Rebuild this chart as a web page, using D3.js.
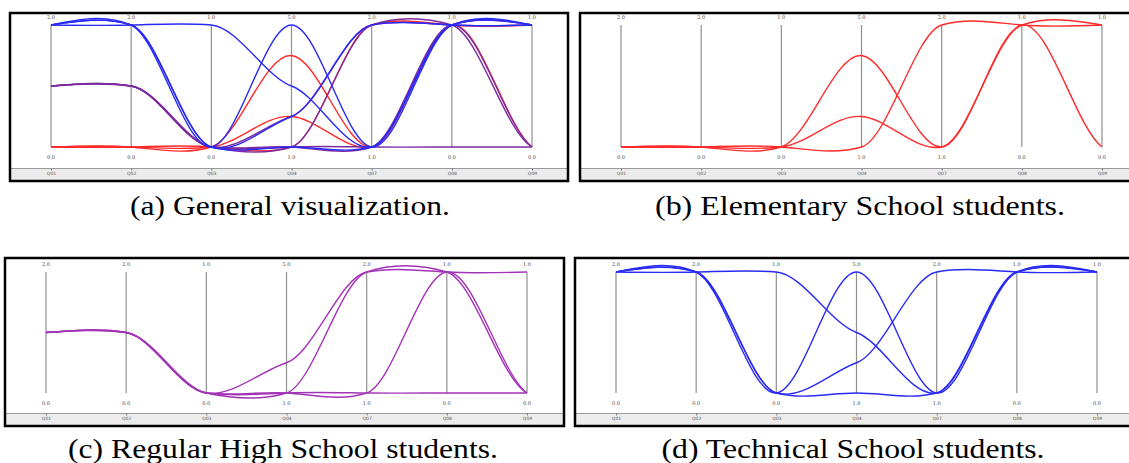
<!DOCTYPE html>
<html>
<head>
<meta charset="utf-8">
<script src="https://cdn.jsdelivr.net/npm/d3@7"></script>
<style>
  html, body { margin: 0; padding: 0; background: #fff; }
  svg { display: block; }
</style>
</head>
<body>
<svg id="chart" width="1129" height="463"></svg>
<script>
// ---------- data ----------
const axesNames = ["Q01", "Q02", "Q03", "Q04", "Q07", "Q08", "Q09"];
const axisMin = [0, 0, 0, 1, 1, 0, 0];
const axisMax = [2, 2, 1, 5, 2, 1, 1];
const topLabels = ["2.0", "2.0", "1.0", "5.0", "2.0", "1.0", "1.0"];
const bottomLabels = ["0.0", "0.0", "0.0", "1.0", "1.0", "0.0", "0.0"];

// Elementary School students (red)
const elementary = [
  [0, 0, 0, 1, 2, 1, 1],
  [0, 0, 0, 4, 1, 1, 0],
  [0, 0, 0, 2, 1, 1, 1]
];
// Regular High School students (purple)
const highSchool = [
  [1, 1, 0, 2, 2, 1, 1],
  [1, 1, 0, 1, 2, 1, 0],
  [1, 1, 0, 1, 1, 1, 0],
  [1, 1, 0, 1, 1, 0, 0]
];
// Technical School students (blue)
const technical = [
  [2, 2, 1, 3, 1, 1, 1],
  [2, 2, 0, 5, 1, 1, 1],
  [2, 2, 0, 2, 2, 1, 1],
  [2, 2, 0, 1, 1, 1, 1]
];

const captions = [
  "(a) General visualization.",
  "(b) Elementary School students.",
  "(c) Regular High School students.",
  "(d) Technical School students."
];

// ---------- custom smooth curve (damped natural spline through the points) ----------
function DampedNatural(context, k) { this._context = context; this._k = k; }
DampedNatural.prototype = {
  areaStart() { this._line = 0; },
  areaEnd() { this._line = NaN; },
  lineStart() { this._xs = []; this._ys = []; },
  point(x, y) { this._xs.push(+x); this._ys.push(+y); },
  lineEnd() {
    const xs = this._xs, ys = this._ys, n = xs.length, k = this._k, c = this._context;
    if (!n) return;
    c.moveTo(xs[0], ys[0]);
    if (n === 1) return;
    const h = [];
    for (let i = 0; i < n - 1; i++) h.push(xs[i + 1] - xs[i]);
    const M = new Array(n).fill(0);
    if (n > 2) {
      const a = [], b = [], cc = [], d = [];
      for (let i = 1; i < n - 1; i++) {
        a.push(h[i - 1]);
        b.push(2 * (h[i - 1] + h[i]));
        cc.push(h[i]);
        d.push(6 * ((ys[i + 1] - ys[i]) / h[i] - (ys[i] - ys[i - 1]) / h[i - 1]));
      }
      const m = b.length;
      for (let i = 1; i < m; i++) {
        const w = a[i] / b[i - 1];
        b[i] -= w * cc[i - 1];
        d[i] -= w * d[i - 1];
      }
      const sol = new Array(m);
      sol[m - 1] = d[m - 1] / b[m - 1];
      for (let i = m - 2; i >= 0; i--) sol[i] = (d[i] - cc[i] * sol[i + 1]) / b[i];
      for (let i = 0; i < m; i++) M[i + 1] = sol[i];
    }
    const slope = new Array(n);
    for (let i = 0; i < n - 1; i++)
      slope[i] = (ys[i + 1] - ys[i]) / h[i] - h[i] * (2 * M[i] + M[i + 1]) / 6;
    slope[n - 1] = (ys[n - 1] - ys[n - 2]) / h[n - 2] + h[n - 2] * (M[n - 2] + 2 * M[n - 1]) / 6;
    for (let i = 0; i < n - 1; i++) {
      const t = h[i] / 3;
      c.bezierCurveTo(xs[i] + t, ys[i] + k * slope[i] * t,
                      xs[i + 1] - t, ys[i + 1] - k * slope[i + 1] * t,
                      xs[i + 1], ys[i + 1]);
    }
  }
};
const curveDamped = k => context => new DampedNatural(context, k);

// ---------- layout ----------
const RED = "#ff2a2a", BLUE = "#2a2af5", PURPLE_A = "#7d2aa0", PURPLE_C = "#a333b6";

const panels = [
  { box: [10, 13, 568, 181], ax: [51, 532], ay: [147, 25], cap: [290, 215], capW: 320,
    groups: [[elementary, RED], [highSchool, PURPLE_A], [technical, BLUE]] },
  { box: [580, 13, 1140, 181], ax: [621, 1102], ay: [147, 25], cap: [860, 215], capW: 410,
    groups: [[elementary, RED]] },
  { box: [5, 258, 564, 426], ax: [46, 527], ay: [393, 272], cap: [283, 458], capW: 430,
    groups: [[highSchool, PURPLE_C]] },
  { box: [575, 258, 1140, 426], ax: [616, 1097], ay: [393, 272], cap: [853, 458], capW: 383,
    groups: [[technical, BLUE]] }
];

const svg = d3.select("#chart");

panels.forEach((p, pi) => {
  const [bx0, by0, bx1, by1] = p.box;
  const g = svg.append("g");

  const x = d3.scalePoint().domain(axesNames).range(p.ax);
  const yScales = axesNames.map((_, i) =>
    d3.scaleLinear().domain([axisMin[i], axisMax[i]]).range(p.ay));

  g.append("rect").attr("x", bx0).attr("y", by0)
    .attr("width", bx1 - bx0).attr("height", by1 - by0)
    .attr("fill", "#fff");

  // bottom strip with axis names
  const stripTop = by1 - 12.5;
  g.append("rect").attr("x", bx0).attr("y", stripTop)
    .attr("width", bx1 - bx0).attr("height", by1 - stripTop)
    .attr("fill", "#ececec");
  g.append("line").attr("x1", bx0).attr("x2", bx1)
    .attr("y1", stripTop).attr("y2", stripTop)
    .attr("stroke", "#9a9a9a").attr("stroke-width", 1);

  const xAxis = d3.axisBottom(x).tickSize(2).tickPadding(1.5);
  const axG = g.append("g").attr("transform", `translate(0,${stripTop})`).call(xAxis);
  axG.select(".domain").remove();
  axG.selectAll(".tick line").attr("stroke", "#777");
  axG.selectAll(".tick text").attr("font-size", 4.5).attr("fill", "#555")
    .attr("font-family", "DejaVu Sans");

  // vertical axes + min/max labels
  axesNames.forEach((name, i) => {
    const xx = x(name);
    g.append("line").attr("x1", xx).attr("x2", xx)
      .attr("y1", yScales[i](axisMin[i])).attr("y2", yScales[i](axisMax[i]))
      .attr("stroke", "#8f8f8f").attr("stroke-width", 1.2);
    g.append("text").attr("x", xx).attr("y", yScales[i](axisMax[i]) - 6)
      .attr("text-anchor", "middle").attr("font-size", 5)
      .attr("font-family", "DejaVu Serif").attr("fill", "#444")
      .text(topLabels[i]);
    g.append("text").attr("x", xx).attr("y", yScales[i](axisMin[i]) + 12)
      .attr("text-anchor", "middle").attr("font-size", 5)
      .attr("font-family", "DejaVu Serif").attr("fill", "#444")
      .text(bottomLabels[i]);
  });

  const line = d3.line()
    .x((d, i) => x(axesNames[i]))
    .y((d, i) => yScales[i](d))
    .curve(curveDamped(0.3));

  p.groups.forEach(([rows, color]) => {
    g.append("g").selectAll("path").data(rows).join("path")
      .attr("d", line)
      .attr("fill", "none")
      .attr("stroke", color)
      .attr("stroke-width", 1.4);
  });

  g.append("rect").attr("x", bx0).attr("y", by0)
    .attr("width", bx1 - bx0).attr("height", by1 - by0)
    .attr("fill", "none").attr("stroke", "#000").attr("stroke-width", 2.5);

  svg.append("text").attr("x", p.cap[0]).attr("y", p.cap[1])
    .attr("text-anchor", "middle")
    .attr("font-family", "Liberation Serif")
    .attr("font-size", 27)
    .attr("textLength", p.capW)
    .attr("lengthAdjust", "spacingAndGlyphs")
    .attr("fill", "#000")
    .text(captions[pi]);
});
</script>
</body>
</html>
